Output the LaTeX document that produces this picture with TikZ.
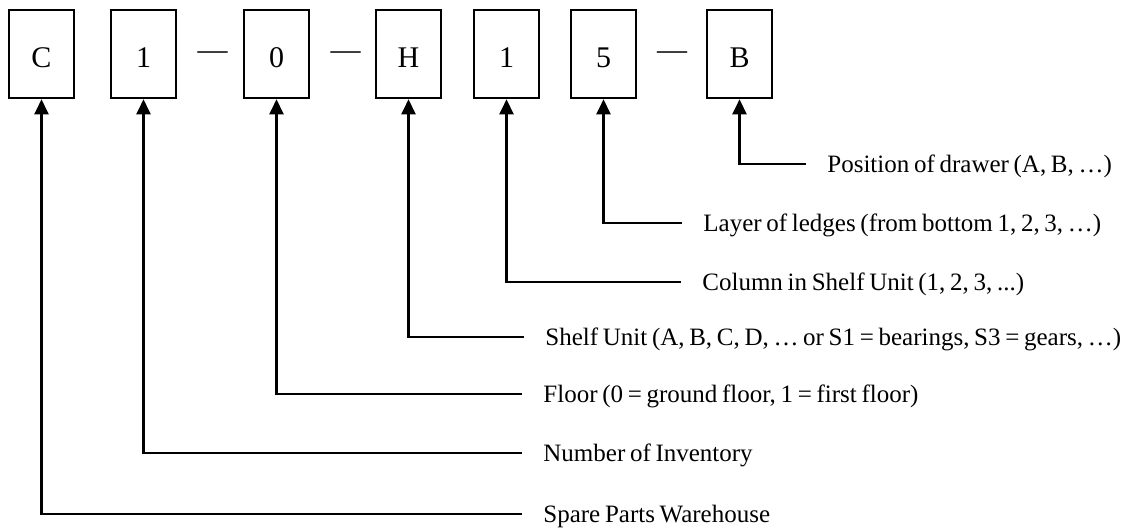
\documentclass[tikz,border=0pt]{standalone}
\usepackage{fontspec}
\setmainfont{Liberation Serif}[WordSpace=0.75]
\usetikzlibrary{arrows.meta}
\tikzset{
  charbox/.style={draw, line width=1.3pt, minimum width=32.5pt, minimum height=44pt,
    inner sep=0pt, font=\fontsize{15}{18}\selectfont, text height=13pt, text depth=0pt},
  sepdash/.style={anchor=base, inner sep=0pt, font=\fontsize{15}{18}\selectfont},
  desc/.style={anchor=west, inner sep=0pt, font=\fontsize{12.5}{15}\selectfont,
    text height=8.2pt, text depth=0pt},
  pointer/.style={{Triangle[length=7.5pt,width=7pt]}-, line width=1.3pt},
}

\begin{document}
\begin{tikzpicture}[x=0.5pt, y=-0.5pt]
    \useasboundingbox (0,0) rectangle (1125,527);
    % code characters
    \foreach \nm/\x/\ch in {wh/41.5/C, inv/143.5/1, fl/276.5/0, su/408.5/H,
      col/506.5/1, lay/603.5/5, dr/739.5/B} {
      \node[charbox] (\nm) at (\x,54) {\ch};
    }
    \node[sepdash] (d1) at (212.5,59.2) {—};
    \node[sepdash] (d2) at (345.5,59.2) {—};
    \node[sepdash] (d3) at (672,59.2) {—};
    % explanations
    \foreach \nm/\x/\y/\txt in {dr/827/164/{Position of drawer (A, B, …)},
      lay/703/223/{Layer of ledges (from bottom 1, 2, 3, …)},
      col/702/282/{Column in Shelf Unit (1, 2, 3, ...)},
      su/545/337/{Shelf Unit (A, B, C, D, … or S1 = bearings, S3 = gears, …)},
      fl/543/394/{Floor (0 = ground floor, 1 = first floor)},
      inv/543/453/{Number of Inventory},
      wh/543/514/{Spare Parts Warehouse}} {
      \node[desc] (t\nm) at (\x,\y) {\txt};
      \draw[pointer] (\nm.south) |- ([xshift=-10.5pt]t\nm.west);
    }
  \end{tikzpicture}
\end{document}
